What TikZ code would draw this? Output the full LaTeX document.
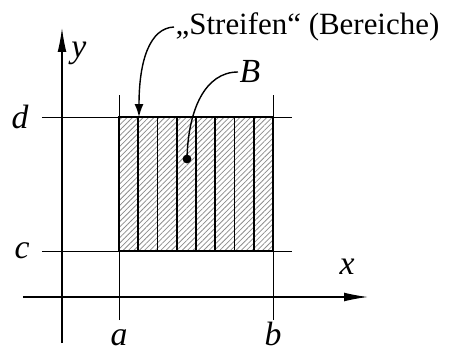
\documentclass[tikz,border=0pt]{standalone}
\usepackage{fontspec}
\setmainfont{Liberation Serif}
\usepackage{tikz}
\usetikzlibrary{arrows.meta, positioning, patterns.meta}
\definecolor{mydark}{RGB}{0,0,0}
\definecolor{myhatch}{RGB}{140,140,140}
\tikzset{
  axis/.style={-{Latex[length=6mm, width=2.2mm]}, line width=0.8pt, color=mydark},
  guide/.style={line width=0.7pt, color=mydark},
  strip/.style={line width=1.1pt, color=mydark,
    pattern={Lines[angle=45, distance=2.7pt, line width=0.55pt]}, pattern color=myhatch},
  border/.style={line width=1.3pt, color=mydark},
  pointer/.style={-{Latex[length=3.2mm, width=2.2mm]}, line width=1pt, color=mydark},
  leader/.style={line width=1pt, color=mydark},
  lbl/.style={font=\fontsize{24}{28}\selectfont\itshape, inner sep=1pt},
  txt/.style={font=\fontsize{22}{26}\selectfont, inner sep=1pt},
  dotnode/.style={circle, fill=mydark, inner sep=0pt, minimum size=0.22cm}
}

\begin{document}
\begin{tikzpicture}
  \useasboundingbox (-1.55,-1.375) rectangle (9.825,7.425);
  % strips
  \foreach \i in {0,...,7}
    \draw[strip] ({1.425+\i*0.48125},1.15) rectangle ({1.425+(\i+1)*0.48125},4.5);
  \draw[border] (1.425,1.15) rectangle (5.275,4.5);
  % guide lines
  \draw[guide] (1.425,-0.575) -- (1.425,5.05);
  \draw[guide] (5.275,-0.575) -- (5.275,5.05);
  \draw[guide] (-0.5,1.15) -- (5.75,1.15);
  \draw[guide] (-0.5,4.5) -- (5.75,4.5);
  % axes
  \draw[axis] (-0.975,0) -- (7.65,0);
  \draw[axis] (0,-1.15) -- (0,6.725);
  \node[lbl] (xl) at (7.125,0.75) {x};
  \node[lbl] (yl) at (0.42,6.1) {y};
  \node[lbl, anchor=base] (al) at (1.425,-1.2) {a};
  \node[lbl, anchor=base] (bl) at (5.275,-1.2) {b};
  \node[lbl] (cl) at (-1.0,1.15) {c};
  \node[lbl] (dl) at (-1.05,4.5) {d};
  % annotations
  \node[txt, anchor=west] (streifen) at (2.8,6.75) {„Streifen“ (Bereiche)};
  \coordinate (striptop) at (1.925,4.5);
  \draw[pointer] (streifen.west) .. controls (2.2,6.725) and (1.925,5.925) .. (striptop);
  \node[lbl, anchor=west] (Bl) at (4.4,5.625) {B};
  \node[dotnode] (Bdot) at (3.125,3.45) {};
  \draw[leader] (Bl.west) .. controls (3.575,5.625) and (3.15,4.675) .. (Bdot.center);
\end{tikzpicture}
\end{document}
